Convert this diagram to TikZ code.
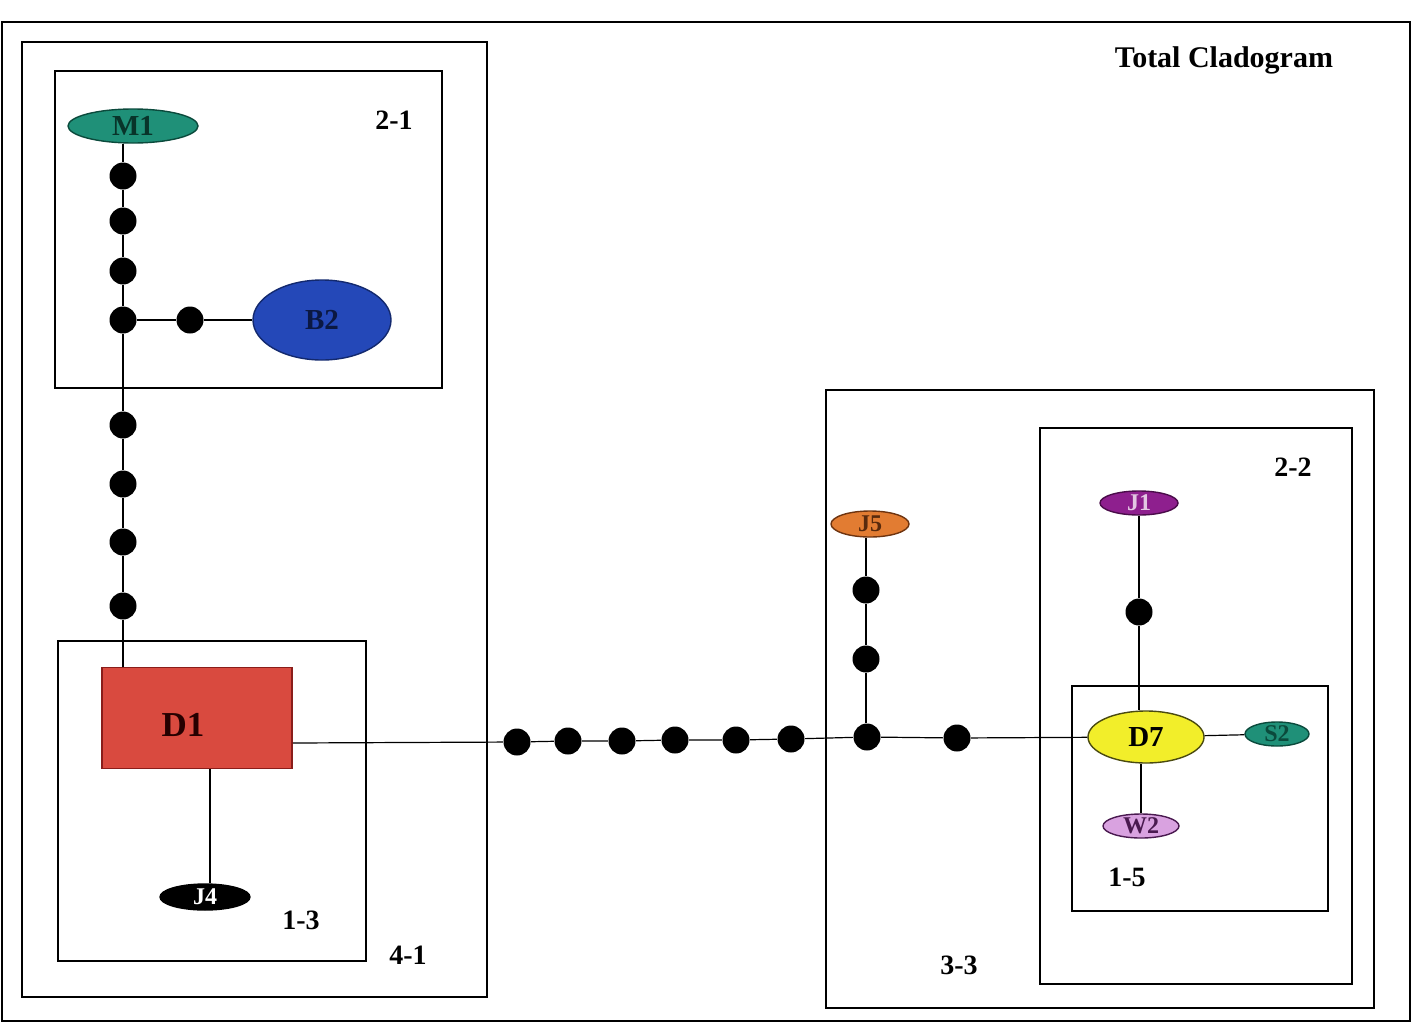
\documentclass[tikz,border=0pt]{standalone}
\usepackage{fontspec}
\setmainfont{Liberation Serif}
\usetikzlibrary{shapes.geometric}
\definecolor{tealM}{HTML}{1F9078}
\definecolor{tealD}{HTML}{0B4A3C}
\definecolor{blueB}{HTML}{2448B8}
\definecolor{blueD}{HTML}{13296E}
\definecolor{redD}{HTML}{D94A3F}
\definecolor{redE}{HTML}{8A1D1A}
\definecolor{orJ}{HTML}{E27C32}
\definecolor{orE}{HTML}{6E3410}
\definecolor{purJ}{HTML}{8E1F8E}
\definecolor{purE}{HTML}{4A0C4A}
\definecolor{yelD}{HTML}{F2EE2A}
\definecolor{yelE}{HTML}{4A4A10}
\definecolor{lavW}{HTML}{D9A2E0}
\definecolor{lavE}{HTML}{4A1A50}
\begin{document}
\begin{tikzpicture}[x=1pt,y=-1pt,line width=1.2pt,
  dot/.style={circle,fill=black,minimum size=27pt,inner sep=0pt},
  frame/.style={draw,line width=1.3pt},
  tax/.style={ellipse,draw,line width=1.4pt,inner sep=0pt},
  lab/.style={font=\bfseries\fontsize{28}{28}\selectfont},
  tl/.style={font=\bfseries\fontsize{29}{29}\selectfont},
  ts/.style={font=\bfseries\fontsize{24}{24}\selectfont}]
\useasboundingbox (0,0) rectangle (1419,1028);
% frames
\draw[frame] (2,22) rectangle (1410,1021);
\draw[frame] (22,42) rectangle (487,997);
\draw[frame] (55,71) rectangle (442,388);
\draw[frame] (58,641) rectangle (366,961);
\draw[frame] (826,390) rectangle (1374,1008);
\draw[frame] (1040,428) rectangle (1352,984);
\draw[frame] (1072,686) rectangle (1328,911);
% labels
\node[font=\bfseries\fontsize{30}{30}\selectfont] (title) at (1224,60) {Total Cladogram};
\node[lab] (l21) at (394,120) {2-1};
\node[lab] (l13) at (301,920) {1-3};
\node[lab] (l41) at (408,955) {4-1};
\node[lab] (l33) at (959,965) {3-3};
\node[lab] (l22) at (1293,467) {2-2};
\node[lab] (l15) at (1127,877) {1-5};
% taxa
\node[tax,fill=tealM,draw=tealD,minimum width=130pt,minimum height=34pt,
  label={[tl,text=tealD!70!black]center:M1}] (m1) at (133,126) {};
\node[tax,fill=blueB,draw=blueD,minimum width=138pt,minimum height=80pt,
  label={[tl,text=blueD!60!black]center:B2}] (b2) at (322,320) {};
\node[draw=redE,fill=redD,line width=1.6pt,minimum width=190pt,minimum height=101pt,inner sep=0pt] (d1) at (197,718) {};
\node[font=\bfseries\fontsize{35}{35}\selectfont,text=black!85!red] (d1t) at (183,725) {D1};
\node[tax,fill=black,draw=black,minimum width=90pt,minimum height=26pt,
  label={[ts,text=white]center:J4}] (j4) at (205,897) {};
\node[tax,fill=orJ,draw=orE,minimum width=78pt,minimum height=26pt,
  label={[ts,text=orE!80!black]center:J5}] (j5) at (870,524) {};
\node[tax,fill=purJ,draw=purE,minimum width=78pt,minimum height=24pt,
  label={[ts,text=purJ!25!white]center:J1}] (j1) at (1139,503) {};
\node[tax,fill=yelD,draw=yelE,minimum width=116pt,minimum height=52pt,
  label={[tl,text=black]center:D7}] (d7) at (1146,737) {};
\node[tax,fill=tealM,draw=tealD,minimum width=64pt,minimum height=24pt,
  label={[ts,text=tealD]center:S2}] (s2) at (1277,734) {};
\node[tax,fill=lavW,draw=lavE,minimum width=76pt,minimum height=24pt,
  label={[ts,text=lavE]center:W2}] (w2) at (1141,826) {};
% dots: vertical chain on left
\node[dot] (a1) at (123,176) {};
\node[dot] (a2) at (123,221) {};
\node[dot] (a3) at (123,271) {};
\node[dot] (a4) at (123,320) {};
\node[dot] (a5) at (123,425) {};
\node[dot] (a6) at (123,484) {};
\node[dot] (a7) at (123,542) {};
\node[dot] (a8) at (123,606) {};
\node[dot] (bb) at (190,320) {};
% horizontal chain
\node[dot] (h1) at (517,742) {};
\node[dot] (h2) at (568,741) {};
\node[dot] (h3) at (622,741) {};
\node[dot] (h4) at (675,740) {};
\node[dot] (h5) at (736,740) {};
\node[dot] (h6) at (791,739) {};
\node[dot] (h7) at (867,737) {};
\node[dot] (h8) at (957,738) {};
% J5 chain
\node[dot] (v1) at (866,590) {};
\node[dot] (v2) at (866,659) {};
% J1 chain
\node[dot] (k1) at (1139,612) {};
% connectors
\draw (a1 |- m1.south) -- (a1) -- (a2) -- (a3) -- (a4) -- (a5) -- (a6) -- (a7) -- (a8) -- (a8 |- d1.north);
\draw (a4) -- (bb) -- (b2);
\draw (d1.east |- 0,743) -- (h1) -- (h2) -- (h3) -- (h4) -- (h5) -- (h6) -- (h7) -- (h8) -- (d7);
\draw (v1 |- j5.south) -- (v1) -- (v2) -- (v2 |- h7.north);
\draw (k1 |- j1.south) -- (k1) -- (k1 |- d7.north);
\draw (d7) -- (s2);
\draw (w2.north) -- (w2.north |- d7.south);
\draw (210,0 |- j4.north) -- (210,0 |- d1.south);
\end{tikzpicture}
\end{document}
